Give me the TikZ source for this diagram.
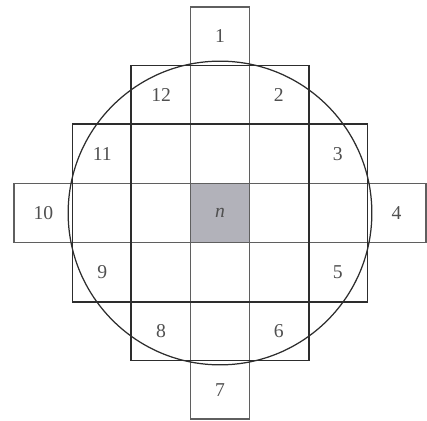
\documentclass[tikz,border=0pt]{standalone}
\usepackage{fontspec}
\setmainfont{Liberation Serif}
\usepackage{tikz}
\usetikzlibrary{positioning}
\definecolor{gridline}{RGB}{95, 95, 95}
\definecolor{outline}{RGB}{45, 45, 45}
\definecolor{label}{RGB}{80, 80, 80}
\definecolor{centre}{RGB}{178, 178, 186}
\tikzstyle{cell} = [rectangle, draw=gridline, line width=0.5pt, minimum size=1cm, inner sep=0pt, text=label, font=\fontsize{9.5}{10}\selectfont]
\tikzstyle{home} = [cell, fill=centre]
\tikzstyle{frame} = [draw=outline, line width=0.7pt]
\tikzstyle{ring} = [draw=outline, line width=0.6pt]

\begin{document}
\begin{tikzpicture}[node distance=1cm]
        \useasboundingbox (-3.738,-3.534) rectangle (3.517,3.619);
        % Centre cell
        \node [home] (cn) {\textit{n}};
        % Centre column
        \node [cell, above of=cn] (n1) {};
        \node [cell, above of=n1] (n2) {};
        \node [cell, above of=n2] (c1) {1};
        \node [cell, below of=cn] (s1) {};
        \node [cell, below of=s1] (s2) {};
        \node [cell, below of=s2] (c7) {7};
        % Centre row
        \node [cell, left of=cn] (w1) {};
        \node [cell, left of=w1] (w2) {};
        \node [cell, left of=w2] (c10) {10};
        \node [cell, right of=cn] (e1) {};
        \node [cell, right of=e1] (e2) {};
        \node [cell, right of=e2] (c4) {4};
        % Upper rows
        \node [cell, left of=n2] (c12) {12};
        \node [cell, right of=n2] (c2) {2};
        \node [cell, left of=n1] (nw) {};
        \node [cell, left of=nw] (c11) {11};
        \node [cell, right of=n1] (ne) {};
        \node [cell, right of=ne] (c3) {3};
        % Lower rows
        \node [cell, left of=s2] (c8) {8};
        \node [cell, right of=s2] (c6) {6};
        \node [cell, left of=s1] (sw) {};
        \node [cell, left of=sw] (c9) {9};
        \node [cell, right of=s1] (se) {};
        \node [cell, right of=se] (c5) {5};

        % Outer frames and circle
        \draw [frame] (c11.north west) rectangle (c5.south east);
        \draw [frame] (c12.north west) rectangle (c6.south east);
        \draw [ring] (cn) circle (2.58);
    \end{tikzpicture}
\end{document}
